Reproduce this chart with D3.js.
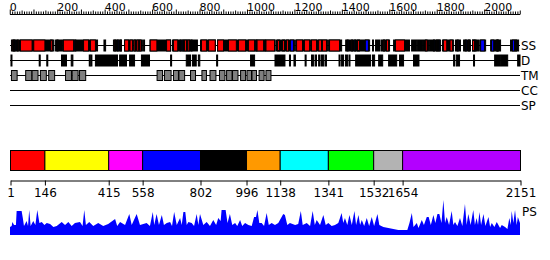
<!DOCTYPE html>
<html>
<head>
<meta charset="utf-8">
<script src="https://cdn.jsdelivr.net/npm/d3@7"></script>
<style>
  body { margin: 0; background: #fff; }
  text { font-family: "DejaVu Sans", sans-serif; fill: #000; }
</style>
</head>
<body>
<svg id="chart" width="550" height="260"></svg>
<script>
// ---- data (residue positions) ----
const seqStart = 1;
const seqEnd = 2151;
const rulerLabels = [0, 200, 400, 600, 800, 1000, 1200, 1400, 1600, 1800, 2000];

const domainBounds = [1, 146, 415, 558, 802, 996, 1138, 1341, 1532, 1654, 2151];
const domainColors = ['#ff0000', '#ffff00', '#ff00ff', '#0000ff', '#000000',
                      '#ff9900', '#00ffff', '#00ff00', '#b3b3b3', '#b300ff'];

const trackNames = ['SS', 'D', 'TM', 'CC', 'SP'];

// secondary structure: ordered blocks, helices (red), strands (blue)
const ssBlocks = [[5,184],[191,216],[220,368],[395,402],[435,469],[482,515],[520,557],[562,566],
  [589,676],[684,747],[749,789],[802,865],[874,1000],[1004,1116],[1120,1198],[1203,1262],
  [1266,1338],[1342,1397],[1414,1515],[1527,1530],[1540,1559],[1565,1599],[1616,1683],
  [1692,1713],[1717,1738],[1742,1763],[1767,1814],[1822,1869],[1877,1898],[1911,1940],
  [1949,1974],[1979,2004],[2025,2067],[2109,2143]];
const ssHelix = [[11,15],[29,33],[43,92],[99,146],[170,177],[197,201],[224,267],[309,330],
  [338,359],[440,444],[463,467],[482,499],[505,515],[522,528],[534,541],[545,551],[590,618],
  [659,676],[688,706],[735,743],[749,756],[806,827],[836,864],[874,899],[920,953],[962,992],
  [1004,1030],[1040,1068],[1078,1114],[1127,1135],[1148,1156],[1165,1173],[1207,1232],
  [1240,1262],[1270,1291],[1300,1312],[1316,1333],[1346,1388],[1439,1443],[1464,1472],
  [1573,1578],[1586,1595],[1624,1662],[1750,1757],[1797,1801],[1826,1840],[1854,1864],
  [1932,1936],[1949,1957],[2050,2054]];
const ssStrand = [[16,19],[272,276],[451,455],[716,720],[727,731],[762,766],[1035,1038],
  [1072,1076],[1181,1194],[1420,1424],[1452,1456],[1497,1510],[1784,1788],[1805,1809],
  [1884,1888],[1918,1922],[1959,1963],[1983,1999],[2029,2038],[2054,2058],[2117,2126],[2130,2134]];

// disordered regions
const disorder = [[3,7],[122,126],[154,158],[216,237],[257,264],[333,337],[340,344],[359,452],
  [461,490],[503,524],[553,587],[676,680],[742,760],[768,784],[793,799],[870,874],[1013,1030],
  [1116,1158],[1177,1181],[1196,1202],[1243,1247],[1270,1278],[1285,1291],[1300,1306],
  [1312,1321],[1327,1333],[1386,1390],[1396,1405],[1413,1422],[1428,1432],[1456,1519],
  [1527,1536],[1553,1570],[1595,1629],[1641,1658],[1700,1723],[1869,1873],[1880,1894],
  [1953,1957],[2042,2067],[2071,2097],[2139,2149]];

// transmembrane helices
const tmHelices = [[5,29],[65,91],[92,117],[127,152],[162,187],[233,258],[261,286],[292,318],
  [619,642],[650,678],[688,709],[711,735],[760,781],[808,827],[842,867],[882,905],[912,935],
  [937,960],[971,992],[998,1017],[1019,1038],[1049,1070],[1078,1099]];

// PS profile: [residue, score]
const psProfile = [[1,8],[8,9],[11,13],[18,10],[26,10],[29,24],[50,24],[55,17],[60,9],[71,14],
  [77,9],[82,25],[88,9],[99,14],[108,10],[116,25],[125,12],[135,13],[146,10],[156,12],[170,11],
  [184,8],[198,9],[219,13],[233,10],[247,13],[261,9],[275,12],[296,13],[307,9],[314,25],[321,10],
  [335,13],[352,9],[373,12],[394,9],[415,11],[444,16],[453,9],[465,13],[486,10],[504,21],[514,10],
  [535,21],[549,10],[577,12],[591,9],[603,23],[609,10],[619,21],[629,10],[641,20],[650,10],
  [662,12],[676,13],[684,9],[693,23],[704,10],[718,17],[725,10],[732,23],[740,23],[746,10],
  [753,13],[767,12],[777,9],[788,21],[795,10],[802,21],[816,10],[830,13],[844,9],[858,15],
  [870,10],[879,17],[889,14],[893,25],[903,25],[910,25],[918,12],[928,21],[938,10],[950,12],
  [959,9],[971,15],[980,9],[992,12],[1006,10],[1020,9],[1030,18],[1038,18],[1044,25],[1052,12],
  [1062,12],[1072,9],[1083,22],[1092,10],[1104,12],[1118,10],[1132,12],[1153,21],[1160,20],
  [1170,10],[1181,12],[1203,10],[1216,11],[1227,24],[1235,10],[1252,12],[1266,9],[1277,24],
  [1286,10],[1294,15],[1308,10],[1322,20],[1332,10],[1343,12],[1357,9],[1371,10],[1385,12],
  [1399,22],[1406,12],[1413,17],[1423,10],[1432,20],[1442,10],[1453,24],[1460,10],[1470,20],
  [1477,10],[1484,15],[1494,9],[1505,17],[1515,9],[1526,18],[1536,9],[1550,21],[1558,10],
  [1575,8],[1596,7],[1617,6],[1638,5],[1659,5],[1676,5],[1685,12],[1695,22],[1702,8],[1716,12],
  [1723,7],[1737,15],[1746,10],[1758,18],[1766,18],[1775,10],[1786,20],[1794,12],[1803,21],
  [1811,21],[1820,12],[1828,35],[1835,12],[1842,18],[1852,10],[1863,24],[1870,10],[1877,13],
  [1887,9],[1898,17],[1908,9],[1919,31],[1926,10],[1933,21],[1943,10],[1954,25],[1961,10],
  [1968,17],[1974,10],[1980,23],[1987,10],[1997,21],[2005,9],[2018,18],[2025,8],[2032,12],
  [2043,8],[2053,13],[2067,7],[2074,10],[2088,8],[2098,6],[2106,17],[2112,10],[2116,24],
  [2123,12],[2130,25],[2137,10],[2142,18],[2151,12]];

// ---- layout ----
const svg = d3.select('#chart');
const x = d3.scaleLinear().domain([seqStart, seqEnd]).range([10, 520]);

const rowY = d3.scalePoint().domain(trackNames).range([45.5, 105.5]);

// ruler on top
const ruler = svg.append('g').attr('transform', 'translate(0,14.5)');
ruler.append('line').attr('x1', x(seqStart)).attr('x2', x(seqEnd)).attr('stroke', '#000');
ruler.selectAll('.minor').data(d3.range(0, seqEnd, 10)).join('line')
  .attr('x1', d => x(d) + 0.5).attr('x2', d => x(d) + 0.5)
  .attr('y1', 0).attr('y2', d => d % 100 === 0 ? -5 : (d % 50 === 0 ? -4 : -3))
  .attr('stroke', '#000');
ruler.selectAll('.lab').data(rulerLabels).join('text')
  .attr('x', d => x(d)).attr('y', -3.5)
  .attr('font-size', 11).text(d => d);

// track baselines
svg.selectAll('.track').data(trackNames).join('line')
  .attr('x1', x(seqStart)).attr('x2', x(seqEnd))
  .attr('y1', d => rowY(d)).attr('y2', d => rowY(d))
  .attr('stroke', '#000');
svg.selectAll('.trackLabel').data(trackNames).join('text')
  .attr('x', 521).attr('y', d => rowY(d)).attr('dy', '0.35em')
  .attr('font-size', 12).text(d => d);

function boxes(data, name, fill, h) {
  svg.append('g').selectAll('rect').data(data).join('rect')
    .attr('x', d => x(d[0]) + 0.5).attr('width', d => Math.max(1, x(d[1]) - x(d[0])))
    .attr('y', rowY(name) - h / 2).attr('height', h)
    .attr('fill', fill).attr('stroke', '#000');
}
boxes(ssBlocks, 'SS', '#000', 11);
boxes(ssHelix, 'SS', '#ff0000', 11);
boxes(ssStrand, 'SS', '#0000ff', 11);
boxes(disorder, 'D', '#000', 11);
boxes(tmHelices, 'TM', '#808080', 10);

// domain bar
const domains = d3.pairs(domainBounds).map((p, i) => ({ start: p[0], end: p[1], color: domainColors[i] }));
svg.append('g').selectAll('rect').data(domains).join('rect')
  .attr('x', d => x(d.start) + 0.5).attr('width', d => x(d.end) - x(d.start))
  .attr('y', 150.5).attr('height', 20)
  .attr('fill', d => d.color).attr('stroke', '#000');

const domAxis = d3.axisBottom(x).tickValues(domainBounds).tickSize(5).tickSizeOuter(0)
  .tickFormat(d3.format('d'));
const domAxisG = svg.append('g').attr('transform', 'translate(0.5,180.5)').call(domAxis);
domAxisG.select('.domain').attr('stroke', '#000');
domAxisG.selectAll('text').attr('font-size', 12).attr('font-family', '"DejaVu Sans", sans-serif')
  .attr('y', 8).attr('dy', '0.71em');

// PS profile
const y = d3.scaleLinear().domain([0, 36]).range([235, 199]);
const area = d3.area().x(d => x(d[0])).y0(y(0)).y1(d => y(d[1]));
svg.append('path').datum(psProfile).attr('d', area).attr('fill', '#0000ff');
svg.append('text').attr('x', 522).attr('y', 216).attr('font-size', 12).text('PS');
</script>
</body>
</html>
